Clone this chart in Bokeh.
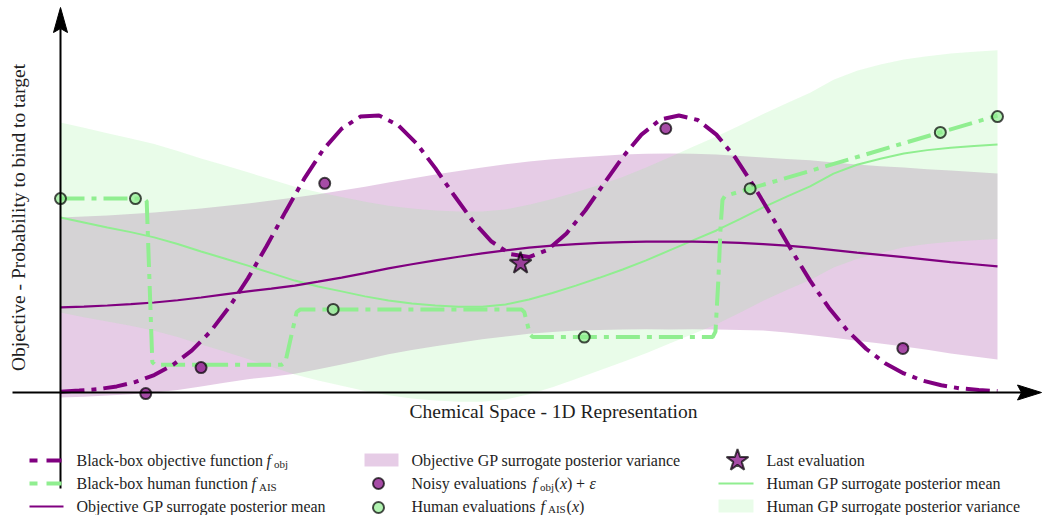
import math
from bokeh.plotting import figure
from bokeh.models import Range1d
from bokeh.core.properties import value
from bokeh.embed import file_html
from bokeh.resources import INLINE

# ---------------------------------------------------------------
# Black-box objective f_obj on a fine 1D chemical-space grid
# ---------------------------------------------------------------
x_fine = [0.00, 0.02, 0.04, 0.06, 0.08, 0.10, 0.12, 0.14, 0.16, 0.18,
          0.20, 0.22, 0.24, 0.26, 0.28, 0.30, 0.32, 0.34, 0.36, 0.38,
          0.40, 0.42, 0.44, 0.46, 0.48, 0.50, 0.52, 0.54, 0.56, 0.58,
          0.60, 0.62, 0.64, 0.66, 0.68, 0.70, 0.72, 0.74, 0.76, 0.78,
          0.80, 0.82, 0.84, 0.86, 0.88, 0.90, 0.92, 0.94, 0.96, 0.98, 1.00]
f_obj = [0.003, 0.007, 0.012, 0.022, 0.038, 0.063, 0.100, 0.151, 0.220, 0.308,
         0.412, 0.529, 0.652, 0.771, 0.875, 0.952, 0.996, 1.000, 0.966, 0.899,
         0.810, 0.712, 0.619, 0.545, 0.500, 0.489, 0.515, 0.574, 0.657, 0.754,
         0.850, 0.931, 0.985, 1.000, 0.984, 0.931, 0.849, 0.745, 0.631, 0.514,
         0.404, 0.306, 0.223, 0.157, 0.106, 0.069, 0.043, 0.026, 0.015, 0.009, 0.005]

# ---------------------------------------------------------------
# GP surrogate posteriors (mean and variance envelope)
# ---------------------------------------------------------------
x_gp = [0.000, 0.025, 0.050, 0.075, 0.100, 0.125, 0.150, 0.175, 0.200, 0.225,
        0.250, 0.275, 0.300, 0.325, 0.350, 0.375, 0.400, 0.425, 0.450, 0.475,
        0.500, 0.525, 0.550, 0.575, 0.600, 0.625, 0.650, 0.675, 0.700, 0.725,
        0.750, 0.775, 0.800, 0.825, 0.850, 0.875, 0.900, 0.925, 0.950, 0.975, 1.000]
obj_mean = [0.307, 0.310, 0.314, 0.319, 0.325, 0.333, 0.343, 0.354, 0.365, 0.375,
            0.386, 0.400, 0.415, 0.431, 0.448, 0.463, 0.477, 0.490, 0.502, 0.513,
            0.523, 0.530, 0.536, 0.540, 0.543, 0.545, 0.545, 0.545, 0.543, 0.540,
            0.536, 0.530, 0.523, 0.514, 0.505, 0.497, 0.489, 0.480, 0.471, 0.463, 0.455]
obj_upper = [0.632, 0.635, 0.639, 0.644, 0.650, 0.657, 0.664, 0.673, 0.682, 0.693,
             0.704, 0.716, 0.729, 0.743, 0.758, 0.773, 0.787, 0.800, 0.812, 0.824,
             0.834, 0.842, 0.848, 0.854, 0.859, 0.862, 0.863, 0.862, 0.859, 0.854,
             0.848, 0.843, 0.838, 0.830, 0.823, 0.817, 0.812, 0.806, 0.801, 0.796, 0.791]
obj_lower = [-0.018, -0.015, -0.011, -0.006, 0.000, 0.009, 0.022, 0.035, 0.048, 0.057,
             0.068, 0.084, 0.101, 0.119, 0.138, 0.153, 0.167, 0.180, 0.192, 0.202,
             0.212, 0.218, 0.224, 0.226, 0.227, 0.228, 0.227, 0.228, 0.227, 0.226,
             0.224, 0.217, 0.208, 0.198, 0.187, 0.177, 0.166, 0.154, 0.141, 0.130, 0.119]
ais_mean = [0.632, 0.614, 0.596, 0.579, 0.560, 0.536, 0.509, 0.484, 0.458, 0.431,
            0.404, 0.383, 0.365, 0.347, 0.332, 0.321, 0.314, 0.310, 0.310, 0.318,
            0.336, 0.359, 0.386, 0.414, 0.444, 0.477, 0.513, 0.549, 0.585, 0.626,
            0.668, 0.707, 0.744, 0.790, 0.822, 0.844, 0.863, 0.875, 0.884, 0.890, 0.895]
ais_upper = [0.975, 0.956, 0.936, 0.917, 0.897, 0.872, 0.845, 0.820, 0.795, 0.769,
             0.743, 0.723, 0.706, 0.689, 0.674, 0.664, 0.657, 0.653, 0.653, 0.661,
             0.678, 0.699, 0.723, 0.749, 0.778, 0.812, 0.849, 0.887, 0.924, 0.964,
             1.005, 1.044, 1.082, 1.129, 1.162, 1.184, 1.202, 1.214, 1.224, 1.230, 1.236]
ais_lower = [0.289, 0.272, 0.256, 0.241, 0.223, 0.200, 0.173, 0.148, 0.121, 0.093,
             0.065, 0.043, 0.024, 0.005, -0.010, -0.022, -0.029, -0.033, -0.033, -0.025,
             -0.006, 0.019, 0.049, 0.079, 0.110, 0.142, 0.177, 0.211, 0.246, 0.288,
             0.331, 0.370, 0.406, 0.451, 0.482, 0.504, 0.524, 0.536, 0.544, 0.550, 0.554]

# ---------------------------------------------------------------
# Human (AIS) black-box function: plateaus joined by steep steps
# ---------------------------------------------------------------
ais_x = [0.000, 0.089, 0.092, 0.098, 0.101, 0.236, 0.240, 0.252, 0.256,
         0.492, 0.495, 0.501, 0.504, 0.696, 0.699, 0.702, 0.7045, 0.7065, 0.709, 1.000]
ais_y = [0.700, 0.700, 0.690, 0.110, 0.100, 0.100, 0.110, 0.290, 0.300,
         0.300, 0.290, 0.210, 0.200, 0.200, 0.220, 0.400, 0.600, 0.695, 0.709, 1.000]

# ---------------------------------------------------------------
# Evaluations
# ---------------------------------------------------------------
noisy_x = [0.091, 0.150, 0.282, 0.646, 0.899]
noisy_y = [-0.004, 0.090, 0.755, 0.953, 0.159]
last_x = [0.491]
last_y = [0.466]
human_x = [0.000, 0.080, 0.291, 0.559, 0.736, 0.939, 1.000]
human_y = [0.700, 0.700, 0.300, 0.200, 0.736, 0.939, 0.996]

x_label = "Chemical Space - 1D Representation"
y_label = "Objective - Probability to bind to target"
legend_col1 = ["Black-box objective function", "Black-box human function",
               "Objective GP surrogate posterior mean"]
legend_col2 = ["Objective GP surrogate posterior variance", "Noisy evaluations",
               "Human evaluations"]
legend_col3 = ["Last evaluation", "Human GP surrogate posterior mean",
               "Human GP surrogate posterior variance"]

# ---------------------------------------------------------------
# Canvas geometry: data (0,0) sits at the axes' crossing
# ---------------------------------------------------------------
W, H = 1042, 515
X0, XS = 60.0, 937.0    # pixel of x=0, pixels per unit x
Y0, YS = 392.0, 277.0   # pixel of y=0, pixels per unit y


def sx(px):
    return (px - X0) / XS


def sy(py):
    return (Y0 - py) / YS


PURPLE = "purple"
GREEN = "lightgreen"
TEXT = "#1e1e1e"
SERIF = "Liberation Serif"

p = figure(width=W, height=H, output_backend="svg", toolbar_location=None,
           x_range=Range1d(sx(0), sx(W)), y_range=Range1d(sy(H), sy(0)),
           x_axis_location=None, y_axis_location=None, min_border=0,
           outline_line_color=None)
p.xgrid.visible = False
p.ygrid.visible = False
p.background_fill_color = "white"

# variance envelopes
p.varea(x=x_gp, y1=obj_lower, y2=obj_upper, fill_color=PURPLE, fill_alpha=0.2)
p.varea(x=x_gp, y1=ais_lower, y2=ais_upper, fill_color=GREEN, fill_alpha=0.2)

# posterior means
p.line(x_gp, ais_mean, line_color=GREEN, line_width=2)
p.line(x_gp, obj_mean, line_color=PURPLE, line_width=2.2)

# black-box functions
DASHDOT = "24 7 5 7"
p.line(ais_x, ais_y, line_color=GREEN, line_width=4, line_dash=DASHDOT)
p.line(x_fine, f_obj, line_color=PURPLE, line_width=4, line_dash=DASHDOT)

# evaluations
mk = dict(fill_alpha=0.7, line_color="black", line_alpha=0.7, line_width=2)
p.scatter(noisy_x, noisy_y, marker="circle", size=11, fill_color=PURPLE, **mk)
p.scatter(human_x, human_y, marker="circle", size=11, fill_color=GREEN, **mk)
p.scatter(last_x, last_y, marker="star", size=23, fill_color=PURPLE, **mk)

# axes drawn as arrows through the origin
p.line([0, 0], [sy(488), sy(28)], line_color="black", line_width=2)
p.line([sx(12), sx(1022)], [0, 0], line_color="black", line_width=2)
p.patch([0, sx(X0 - 7), 0, sx(X0 + 7)], [sy(7), sy(32), sy(28), sy(32)],
        fill_color="black", line_color="black", line_width=1)
p.patch([sx(1041), sx(1017), sx(1021), sx(1017)], [0, sy(Y0 - 7.5), 0, sy(Y0 + 7.5)],
        fill_color="black", line_color="black", line_width=1)


def label(px, py, txt, size="16px", style="normal", align="left", angle=0.0):
    p.text(x=[sx(px)], y=[sy(py)], text=[txt], text_font=value(SERIF),
           text_font_size=value(size), text_font_style=style,
           text_color=TEXT, text_align=align, text_baseline="middle", angle=angle)


label(553, 411, x_label, size="19.5px", align="center")
label(18, 217, y_label, size="19.5px", align="center", angle=math.pi / 2)

# ---------------- legend ----------------
rows = [460, 483, 506]
SUB = "11px"
DN = [3.5, 3.5, 2.0]   # subscript drop per row

# column 1
p.line([sx(29), sx(62)], [sy(rows[0])] * 2, line_color=PURPLE, line_width=4,
       line_dash="8 9 15 9")
p.line([sx(29), sx(62)], [sy(rows[1])] * 2, line_color=GREEN, line_width=4,
       line_dash="8 9 15 9")
p.line([sx(29), sx(63)], [sy(rows[2])] * 2, line_color=PURPLE, line_width=2)
label(76, rows[0], legend_col1[0])
label(266, rows[0], "f", style="italic")
label(273.5, rows[0] + DN[0], "obj", size=SUB)
label(76, rows[1], legend_col1[1])
label(251, rows[1], "f", style="italic")
label(258.5, rows[1] + DN[1], "AIS", size=SUB)
label(76, rows[2], legend_col1[2])

# column 2
p.quad(left=sx(364), right=sx(398), bottom=sy(466), top=sy(453),
       fill_color=PURPLE, fill_alpha=0.2, line_color=None)
p.scatter([sx(378)], [sy(rows[1])], marker="circle", size=11, fill_color=PURPLE, **mk)
p.scatter([sx(378)], [sy(rows[2] + 1)], marker="circle", size=11, fill_color=GREEN, **mk)
label(411, rows[0], legend_col2[0])
label(411, rows[1], legend_col2[1])
label(532, rows[1], "f", style="italic")
label(539.5, rows[1] + DN[1], "obj", size=SUB)
label(554, rows[1], "(")
label(559.5, rows[1], "x", style="italic")
label(566.5, rows[1], ")")
label(575.5, rows[1], "+")
label(589, rows[1], "ε", style="italic")
label(411, rows[2], legend_col2[2])
label(540, rows[2], "f", style="italic")
label(547.5, rows[2] + DN[2], "AIS", size=SUB)
label(566, rows[2], "(")
label(571.5, rows[2], "x", style="italic")
label(578.5, rows[2], ")")

# column 3
p.scatter([sx(737)], [sy(rows[0])], marker="star", size=23, fill_color=PURPLE, **mk)
p.line([sx(718), sx(753)], [sy(rows[1])] * 2, line_color=GREEN, line_width=2)
p.quad(left=sx(718), right=sx(753), bottom=sy(512), top=sy(499),
       fill_color=GREEN, fill_alpha=0.2, line_color=None)
label(766, rows[0], legend_col3[0])
label(766, rows[1], legend_col3[1])
label(766, rows[2], legend_col3[2])

open("out.html", "w").write(file_html(p, INLINE))
